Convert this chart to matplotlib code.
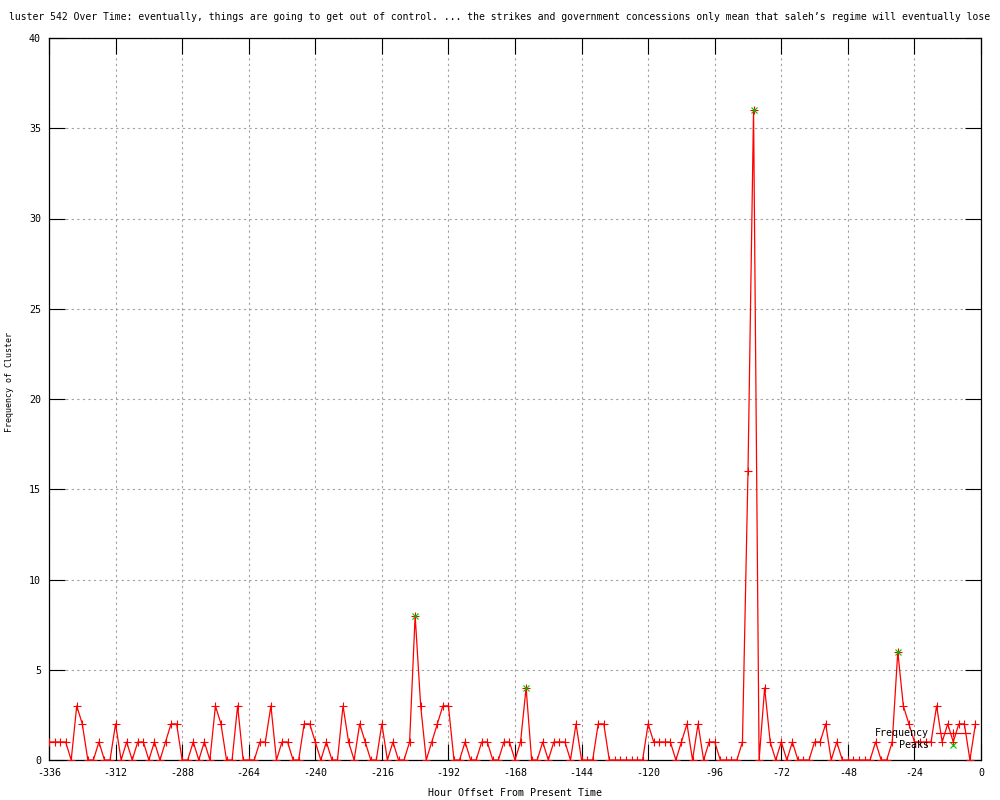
import matplotlib
matplotlib.use("Agg")
import matplotlib.pyplot as plt

# ---- data ----
hours = list(range(-336, 0, 2))
frequency = [
    1, 1, 1, 1, 0, 3, 2, 0, 0, 1,
    0, 0, 2, 0, 1, 0, 1, 1, 0, 1,
    0, 1, 2, 2, 0, 0, 1, 0, 1, 0,
    3, 2, 0, 0, 3, 0, 0, 0, 1, 1,
    3, 0, 1, 1, 0, 0, 2, 2, 1, 0,
    1, 0, 0, 3, 1, 0, 2, 1, 0, 0,
    2, 0, 1, 0, 0, 1, 8, 3, 0, 1,
    2, 3, 3, 0, 0, 1, 0, 0, 1, 1,
    0, 0, 1, 1, 0, 1, 4, 0, 0, 1,
    0, 1, 1, 1, 0, 2, 0, 0, 0, 2,
    2, 0, 0, 0, 0, 0, 0, 0, 2, 1,
    1, 1, 1, 0, 1, 2, 0, 2, 0, 1,
    1, 0, 0, 0, 0, 1, 16, 36, 0, 4,
    1, 0, 1, 0, 1, 0, 0, 0, 1, 1,
    2, 0, 1, 0, 0, 0, 0, 0, 0, 1,
    0, 0, 1, 6, 3, 2, 1, 1, 1, 1,
    3, 1, 2, 1, 2, 2, 0, 2,
]
peak_hours = [-204, -164, -82, -30]
peak_values = [8, 4, 36, 6]
x_ticks = list(range(-336, 1, 24))
y_ticks = list(range(0, 41, 5))

# the title as visible in the reference (clipped by the image edges there)
title = ("luster 542 Over Time: eventually, things are going to get out of control. "
         "... the strikes and government concessions only mean that saleh\u2019s regime "
         "will eventually lose")

plt.rcParams["axes.unicode_minus"] = False
MONO = "DejaVu Sans Mono"
FS = 7.2

fig = plt.figure(figsize=(10, 8), dpi=100)
W, H = 1000, 800
L, R, T, B = 49, 981, 38, 760
ax = fig.add_axes([L / W, 1 - B / H, (R - L) / W, (B - T) / H])

ax.plot(hours, frequency, color="#ff0000", lw=0.9, marker="+", ms=5.5,
        mew=0.8, label="Frequency", zorder=3)
ax.plot(peak_hours, peak_values, linestyle="none", marker="x", color="#00c000",
        ms=5, mew=0.8, label="Peaks", zorder=4)

ax.set_xlim(-336, 0)
ax.set_ylim(0, 40)
ax.set_xticks(x_ticks)
ax.set_yticks(y_ticks)
ax.grid(True, color="#a0a0a0", linestyle=(0, (2, 3)), lw=0.8)
ax.set_axisbelow(True)
ax.tick_params(direction="in", length=11.5, width=0.8, top=True, right=True,
               labelsize=FS, pad=5.8, color="black")
for lab in ax.get_xticklabels() + ax.get_yticklabels():
    lab.set_family(MONO)
for sp in ax.spines.values():
    sp.set_linewidth(0.9)
    sp.set_color("black")

ax.set_ylabel("Frequency of Cluster", family=MONO, fontsize=6.0)
ax.yaxis.set_label_coords((14 - L) / (R - L), (B - 382) / (B - T))
fig.text(515 / W, 1 - 793 / H, "Hour Offset From Present Time", family=MONO,
         fontsize=FS, ha="center", va="center")

fig.text(0.5, 1 - 17 / H, title, family=MONO, fontsize=7.05, ha="center", va="center")

leg = ax.legend(loc="upper right", bbox_to_anchor=(970 / W, 1 - 728 / H),
                bbox_transform=fig.transFigure, frameon=False, markerfirst=False,
                numpoints=1, handlelength=3.4, handletextpad=0.7, borderpad=0,
                borderaxespad=0, labelspacing=0.25,
                prop={"family": MONO, "size": FS})

fig.savefig("out.png", dpi=100)
